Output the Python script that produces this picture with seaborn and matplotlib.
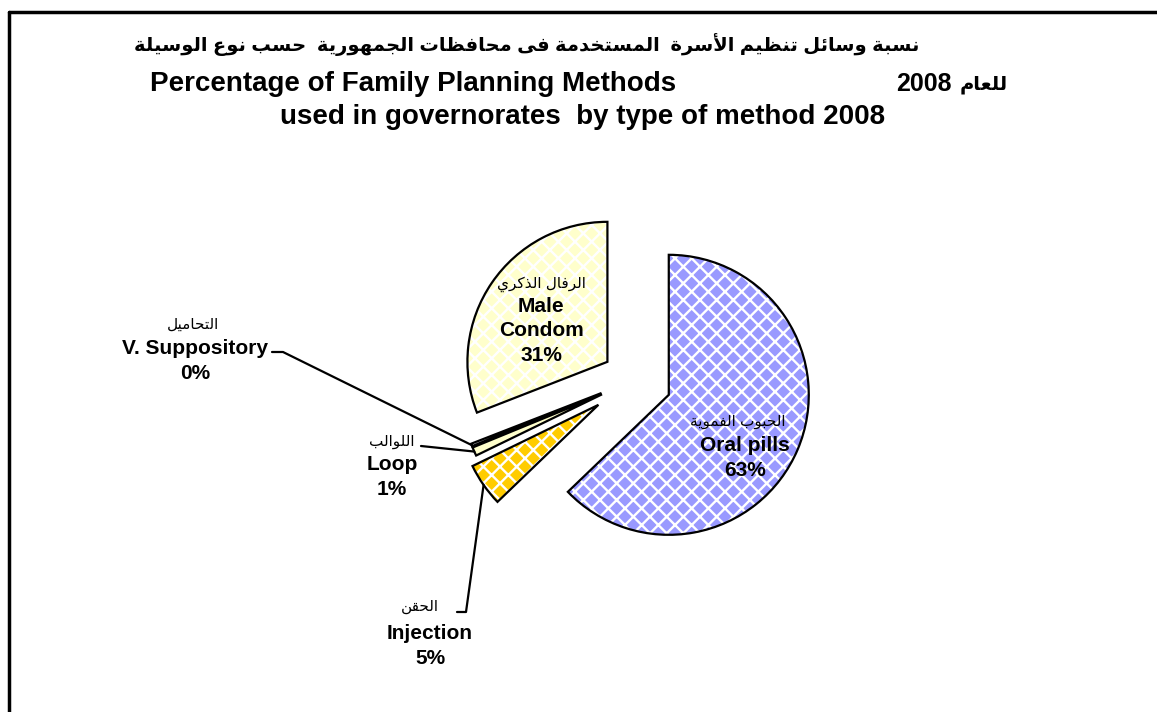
import matplotlib
matplotlib.use('Agg')
import matplotlib.pyplot as plt
import seaborn as sns
import numpy as np
from matplotlib.lines import Line2D

# Data
methods_en = ['Oral pills', 'Injection', 'Loop', 'V. Suppository', 'Male\nCondom']
methods_ar = ['الحبوب الفموية', 'الحقن', 'اللوالب', 'التحاميل', 'الرفال الذكري']
shares = [63, 5, 1, 0.3, 31]
colors = ['#9999FF', '#FFCC00', '#FFFFCC', '#FFFFFF', '#FFFFCC']
hatches = ['xx', 'xx', '', '', 'xx']
explode = [0.27, 0.31, 0.25, 0.25, 0.23]

title_ar = 'نسبة وسائل تنظيم الأسرة  المستخدمة فى محافظات الجمهورية  حسب نوع الوسيلة'
title_en1 = 'Percentage of Family Planning Methods'
title_year = '2008'
title_year_ar = 'للعام'
title_en2 = 'used in governorates  by type of method 2008'

# minimal Arabic shaping (matplotlib has no complex text layout)
_bases = {'ء': (0xFE80, 1), 'آ': (0xFE81, 2), 'أ': (0xFE83, 2), 'ؤ': (0xFE85, 2),
          'إ': (0xFE87, 2), 'ئ': (0xFE89, 4), 'ا': (0xFE8D, 2), 'ب': (0xFE8F, 4),
          'ة': (0xFE93, 2), 'ت': (0xFE95, 4), 'ث': (0xFE99, 4), 'ج': (0xFE9D, 4),
          'ح': (0xFEA1, 4), 'خ': (0xFEA5, 4), 'د': (0xFEA9, 2), 'ذ': (0xFEAB, 2),
          'ر': (0xFEAD, 2), 'ز': (0xFEAF, 2), 'س': (0xFEB1, 4), 'ش': (0xFEB5, 4),
          'ص': (0xFEB9, 4), 'ض': (0xFEBD, 4), 'ط': (0xFEC1, 4), 'ظ': (0xFEC5, 4),
          'ع': (0xFEC9, 4), 'غ': (0xFECD, 4), 'ف': (0xFED1, 4), 'ق': (0xFED5, 4),
          'ك': (0xFED9, 4), 'ل': (0xFEDD, 4), 'م': (0xFEE1, 4), 'ن': (0xFEE5, 4),
          'ه': (0xFEE9, 4), 'و': (0xFEED, 2), 'ى': (0xFEEF, 2), 'ي': (0xFEF1, 4)}
_lam_alef = {'آ': (0xFEF5, 0xFEF6), 'أ': (0xFEF7, 0xFEF8),
             'إ': (0xFEF9, 0xFEFA), 'ا': (0xFEFB, 0xFEFC)}


def ar(text):
    out = []
    i = 0
    while i < len(text):
        ch = text[i]
        if ch not in _bases:
            out.append(ch)
            i += 1
            continue
        prev = text[i - 1] if i > 0 else ''
        joins_prev = prev in _bases and _bases[prev][1] == 4
        if ch == 'ل' and i + 1 < len(text) and text[i + 1] in _lam_alef:
            iso, fin = _lam_alef[text[i + 1]]
            out.append(chr(fin if joins_prev else iso))
            i += 2
            continue
        base, n = _bases[ch]
        nxt = text[i + 1] if i + 1 < len(text) else ''
        joins_next = n == 4 and nxt in _bases
        if n == 1:
            k = 0
        elif joins_prev and joins_next:
            k = 3
        elif joins_prev:
            k = 1
        elif joins_next:
            k = 2
        else:
            k = 0
        out.append(chr(base + k))
        i += 1
    return ''.join(reversed(out))


sns.set_style('white')
plt.rcParams['font.family'] = ['Liberation Sans', 'DejaVu Sans']
plt.rcParams['text.color'] = 'black'
plt.rcParams['hatch.linewidth'] = 1.7

W, H = 1157, 712
R = 140            # pie radius in pixels
CX, CY = 634, 380  # pie centre in pixels

fig = plt.figure(figsize=(W / 100, H / 100), dpi=100)
ax = fig.add_axes([0, 0, 1, 1])


def px(x, y):
    return (x - CX) / R, (CY - y) / R


# fills (hatch drawn in white over the colour)
wedges, _ = ax.pie(shares, colors=colors, explode=explode, startangle=90,
                   counterclock=False,
                   wedgeprops=dict(edgecolor='white', linewidth=0))
for w, h in zip(wedges, hatches):
    w.set_hatch(h)
# outlines
ax.pie(shares, explode=explode, startangle=90, counterclock=False,
       wedgeprops=dict(edgecolor='black', linewidth=1.6, fill=False))

ax.set_xlim(-CX / R, (W - CX) / R)
ax.set_ylim((CY - H) / R, CY / R)
ax.set_aspect('auto')
ax.axis('off')

total = sum(shares)
ar_xy = [(738, 422), (420, 607), (392, 442), (193, 325), (541, 284)]
en_xy = [(745, 458), (430, 646), (392, 477), (195, 361), (541, 331)]
for name, name_ar, v, (ax_, ay_), (ex, ey) in zip(methods_en, methods_ar, shares, ar_xy, en_xy):
    ax.text(*px(ax_, ay_), ar(name_ar), ha='center', va='center', fontsize=11)
    ax.text(*px(ex, ey), f'{name}\n{v / total * 100:.0f}%', ha='center', va='center',
            fontsize=15, fontweight='bold', linespacing=1.35)

# leader lines for the small slices
leaders = {1: [(457, 612), (466, 612)], 2: [(421, 446)], 3: [(272, 352), (283, 352)]}
for i, pts in leaders.items():
    w = wedges[i]
    a = np.deg2rad((w.theta1 + w.theta2) / 2)
    end = (w.center[0] + w.r * np.cos(a), w.center[1] + w.r * np.sin(a))
    xy = [px(*p) for p in pts] + [end]
    ax.plot([p[0] for p in xy], [p[1] for p in xy], color='black', lw=1.6)

# titles
fig.text(527 / W, 1 - 45 / H, ar(title_ar), ha='center', va='center',
         fontsize=14, fontweight='bold')
fig.text(150 / W, 1 - 84 / H, title_en1, ha='left', va='center',
         fontsize=20, fontweight='bold')
fig.text(896 / W, 1 - 84 / H, title_year, ha='left', va='center',
         fontsize=18, fontweight='bold')
fig.text(1008 / W, 1 - 85 / H, ar(title_year_ar), ha='right', va='center',
         fontsize=14, fontweight='bold')
fig.text(583 / W, 1 - 117 / H, title_en2, ha='center', va='center',
         fontsize=20, fontweight='bold')

# chart frame (only left and top visible)
fig.add_artist(Line2D([9 / W, 1], [1 - 12 / H, 1 - 12 / H], transform=fig.transFigure, color='black', lw=2.5))
fig.add_artist(Line2D([9 / W, 9 / W], [0, 1 - 12 / H], transform=fig.transFigure, color='black', lw=2.5))

fig.savefig('out.png', dpi=100)
